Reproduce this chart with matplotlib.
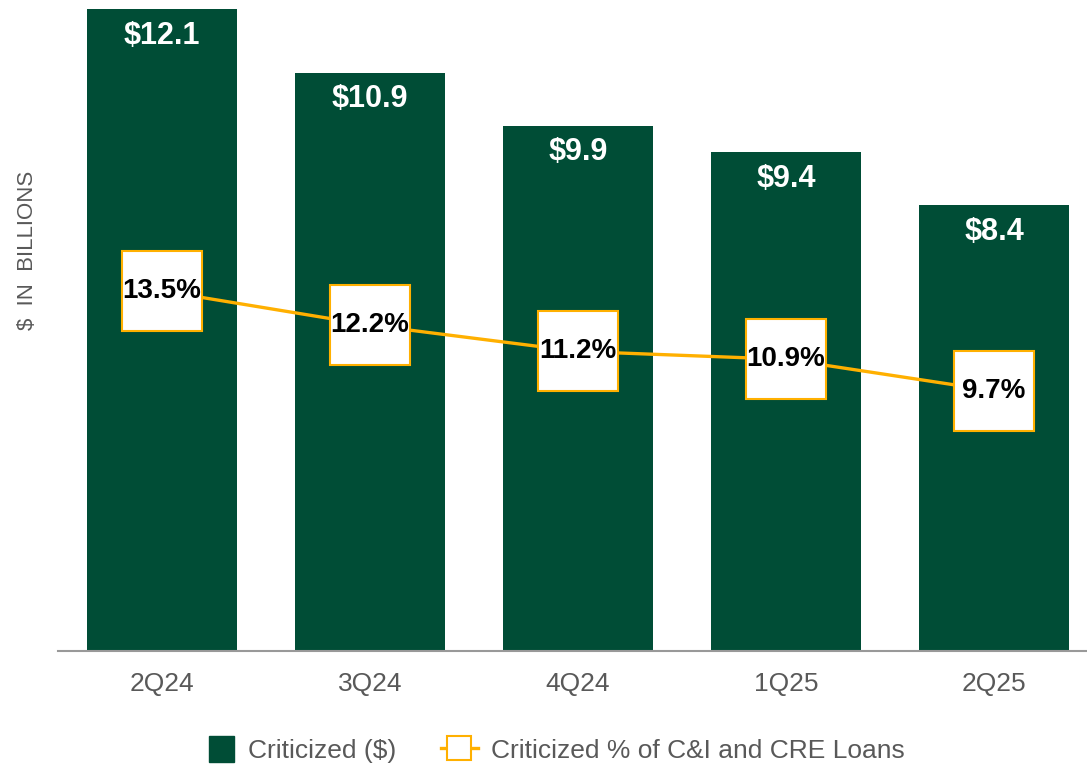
import matplotlib.pyplot as plt
from matplotlib.patches import Patch, Rectangle
from matplotlib.lines import Line2D
from matplotlib.legend_handler import HandlerPatch

quarters = ['2Q24', '3Q24', '4Q24', '1Q25', '2Q25']
criticized = [12.1, 10.9, 9.9, 9.4, 8.4]
criticized_pct = [13.5, 12.2, 11.2, 10.9, 9.7]

green = '#004D36'
orange = '#FFB000'
gray = '#595959'

plt.rcParams['font.family'] = ['Liberation Sans', 'DejaVu Sans']

fig = plt.figure(figsize=(10.87, 7.65), dpi=100)
ax = fig.add_axes([58 / 1087, 114 / 765, 1 - 58 / 1087, 651 / 765])

x = range(len(quarters))
ax.bar(x, criticized, width=0.72, color=green, zorder=2)
for i, v in enumerate(criticized):
    ax.text(i, v - 0.5, '$%.1f' % v, ha='center', va='center', color='white',
            fontsize=22, fontweight='bold', zorder=3)

ax.set_xlim(-0.5, 4.447)
ax.set_ylim(0, 12.27)
ax.set_xticks(list(x))
ax.set_xticklabels(quarters, fontsize=19, color=gray)
ax.tick_params(axis='x', length=0, pad=15)
ax.set_yticks([])
for s in ['top', 'right', 'left']:
    ax.spines[s].set_visible(False)
ax.spines['bottom'].set_color('#999999')
ax.spines['bottom'].set_linewidth(1.5)

fig.text(28 / 1087, 1 - 250 / 765, '$  IN  BILLIONS', rotation=90, ha='center',
         va='center', fontsize=16, color=gray)

ax2 = ax.twinx()
ax2.set_ylim(-0.19, 24.56)
ax2.axis('off')
ax2.plot(x, criticized_pct, color=orange, linewidth=2.4, marker='s',
         markersize=57, markerfacecolor='white', markeredgecolor=orange,
         markeredgewidth=1.5, zorder=4)
for i, v in enumerate(criticized_pct):
    ax2.text(i, v, '%.1f%%' % v, ha='center', va='center', color='black',
             fontsize=20, fontweight='bold', zorder=5)


# small square for the bar legend entry
def square(legend, orig_handle, xdescent, ydescent, width, height, fontsize):
    s = 18.5
    return Rectangle((width - s - xdescent, (height - s) / 2 - ydescent), s, s)


handles = [
    Patch(facecolor=green, edgecolor=green),
    Line2D([0], [0], color=orange, linewidth=2.4, marker='s', markersize=17,
           markerfacecolor='white', markeredgecolor=orange, markeredgewidth=1.5),
]
fig.legend(handles, ['Criticized ($)', 'Criticized % of C&I and CRE Loans'],
           loc='center', bbox_to_anchor=(551 / 1087, 1 - 750 / 765), ncol=2,
           frameon=False, fontsize=19, labelcolor=gray, handlelength=1.4,
           handleheight=1.0, columnspacing=1.7, handletextpad=0.5,
           handler_map={Patch: HandlerPatch(patch_func=square)})

fig.savefig('out.png', dpi=100)
